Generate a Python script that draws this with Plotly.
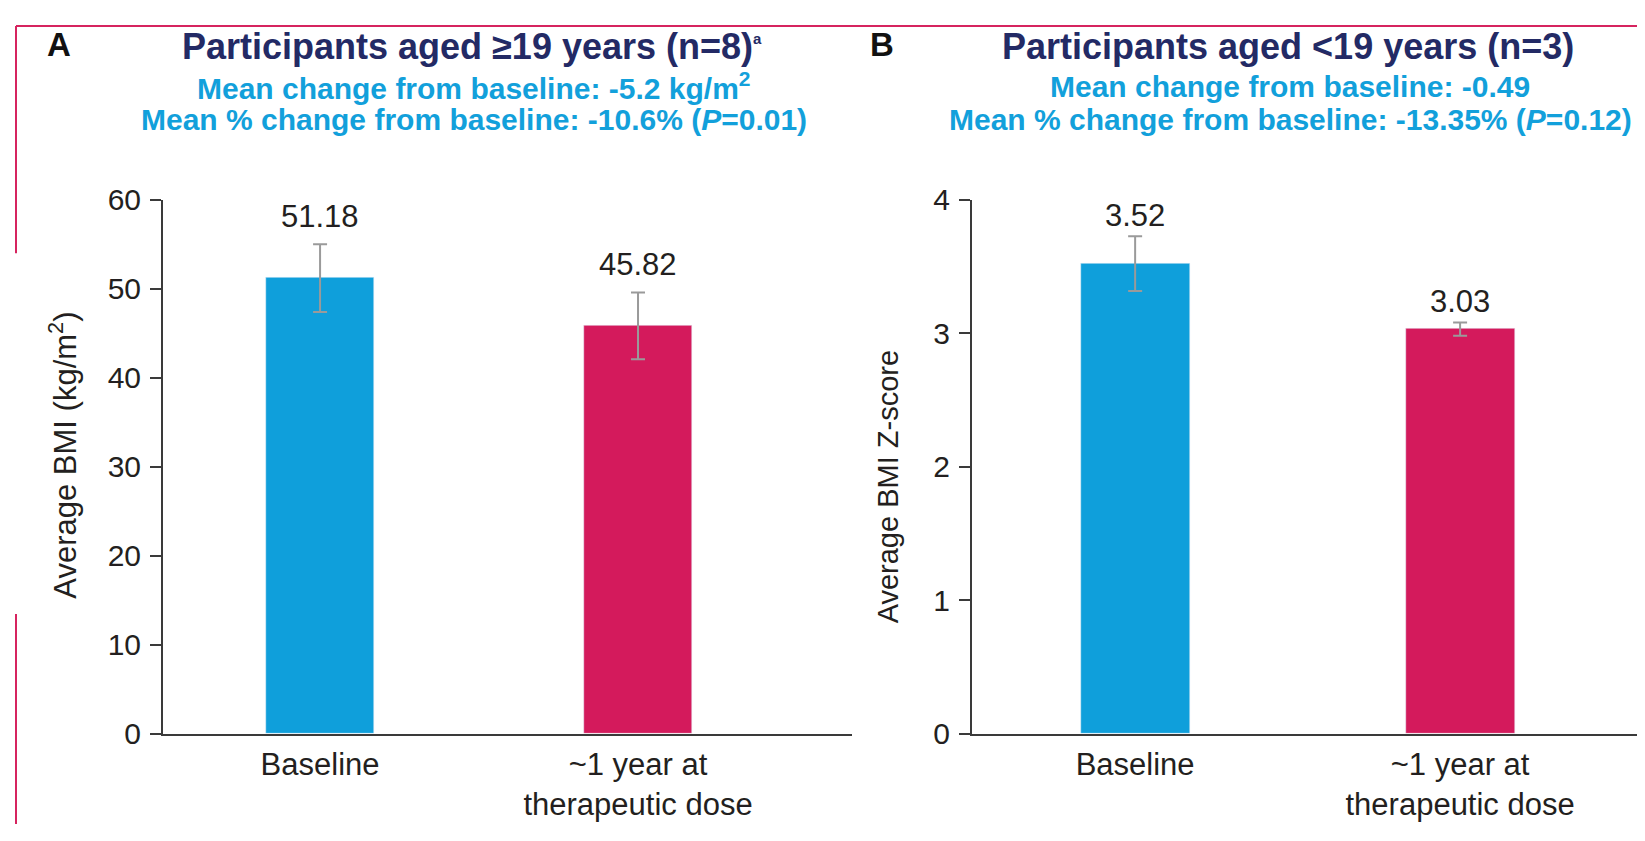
import plotly.graph_objects as go

# The page body adds an 8px margin, so the figure is drawn 8px smaller and
# every screen position below is shifted by that offset.
OFF = 8
W, H = 1645 - OFF, 841 - OFF

# ---- data ----
categories = ["Baseline", "~1 year at<br>therapeutic dose"]
bmi_adult = [51.18, 45.82]
bmi_adult_err = [3.8, 3.75]
adult_labels = ["51.18", "45.82"]
z_child = [3.52, 3.03]
z_child_err = [0.205, 0.05]
child_labels = ["3.52", "3.03"]
bar_colors = ["#0f9fdb", "#d41a5c"]
adult_ticks = [0, 10, 20, 30, 40, 50, 60]
child_ticks = [0, 1, 2, 3, 4]

FONT = "Liberation Sans, Arial, Helvetica, sans-serif"
TXT = "#231f20"
NAVY = "#232a65"
CYAN = "#12a0db"
AXC = "#3a3a3a"
BORDER = "#d6245f"


def px(x):
    return (x - OFF) / W


def py(y):
    return 1 - (y - OFF) / H


fig = go.Figure()

fig.add_trace(go.Bar(
    x=categories, y=bmi_adult, marker_color=bar_colors, width=0.34,
    error_y=dict(type="data", array=bmi_adult_err, color="#9a9a9a", thickness=2, width=7),
    xaxis="x", yaxis="y", showlegend=False, hoverinfo="skip"))
fig.add_trace(go.Bar(
    x=categories, y=z_child, marker_color=bar_colors, width=0.335,
    error_y=dict(type="data", array=z_child_err, color="#9a9a9a", thickness=2, width=7),
    xaxis="x2", yaxis="y2", showlegend=False, hoverinfo="skip"))

ydom = [py(746.7), py(190)]
common_y = dict(showline=True, linewidth=2, linecolor=AXC, ticks="outside", ticklen=11,
                tickwidth=2, tickcolor=AXC, showgrid=False, zeroline=False,
                tickfont=dict(size=30, color=TXT, family=FONT), ticklabelstandoff=3,
                domain=ydom)
common_x = dict(type="category", showline=True, linewidth=2, linecolor=AXC, ticks="",
                showgrid=False, zeroline=False,
                tickfont=dict(size=31, color=TXT, family=FONT), ticklabelstandoff=2)

fig.update_layout(
    width=W, height=H, margin=dict(l=0, r=0, t=0, b=0),
    paper_bgcolor="white", plot_bgcolor="white",
    font=dict(family=FONT, color=TXT),
    xaxis=dict(domain=[px(163), px(852)], range=[-0.494, 1.673], anchor="y", **common_x),
    yaxis=dict(range=[0, 60], tickvals=adult_ticks, anchor="x", **common_y),
    xaxis2=dict(domain=[px(972), 1.0], range=[-0.502, 1.569], anchor="y2", **common_x),
    yaxis2=dict(range=[0, 4], tickvals=child_ticks, anchor="x2", **common_y),
    bargap=0,
)

ann = []
# value labels above error bars
for i, c in enumerate(categories):
    ann.append(dict(x=c, y=bmi_adult[i] + bmi_adult_err[i], xref="x", yref="y",
                    text=adult_labels[i], showarrow=False, yanchor="middle", yshift=28,
                    font=dict(size=31, color=TXT, family=FONT)))
    ann.append(dict(x=c, y=z_child[i] + z_child_err[i], xref="x2", yref="y2",
                    text=child_labels[i], showarrow=False, yanchor="middle", yshift=21,
                    font=dict(size=31, color=TXT, family=FONT)))


def txt(x, y, s, size, color, bold=True, angle=0):
    ann.append(dict(x=px(x), y=py(y), xref="paper", yref="paper", text=s, showarrow=False,
                    xanchor="center", yanchor="middle", textangle=angle,
                    font=dict(size=size, color=color, family=FONT,
                              weight="bold" if bold else "normal")))


SUP_A = '<sup><span style="font-size:15px">a</span></sup>'
txt(59, 28, "A", 33, "#111111")
txt(882, 28, "B", 33, "#111111")
txt(472, 30, "Participants aged ≥19 years (n=8)" + SUP_A, 36, NAVY)
txt(1288, 30, "Participants aged <19 years (n=3)", 36, NAVY)
txt(474, 72, "Mean change from baseline: -5.2 kg/m<sup>2</sup>", 30, CYAN)
txt(474, 106, "Mean % change from baseline: -10.6% (<i>P</i>=0.01)", 30, CYAN)
txt(1290, 72, "Mean change from baseline: -0.49", 30, CYAN)
txt(1290, 106, "Mean % change from baseline: -13.35% (<i>P</i>=0.12)", 30, CYAN)
txt(63, 457, "Average BMI (kg/m<sup>2</sup>)", 31, TXT, bold=False, angle=-90)
txt(888, 489, "Average BMI Z-score", 29, TXT, bold=False, angle=-90)

fig.update_layout(annotations=ann)

# decorative frame
shapes = [
    dict(type="line", xref="paper", yref="paper", x0=px(16), x1=1, y0=py(9), y1=py(9),
         line=dict(color=BORDER, width=2)),
    dict(type="line", xref="paper", yref="paper", x0=px(16), x1=px(16), y0=py(9), y1=py(246),
         line=dict(color=BORDER, width=2)),
    dict(type="line", xref="paper", yref="paper", x0=px(16), x1=px(16), y0=py(622), y1=0,
         line=dict(color=BORDER, width=2)),
]
fig.update_layout(shapes=shapes)

fig.write_html("out.html")
